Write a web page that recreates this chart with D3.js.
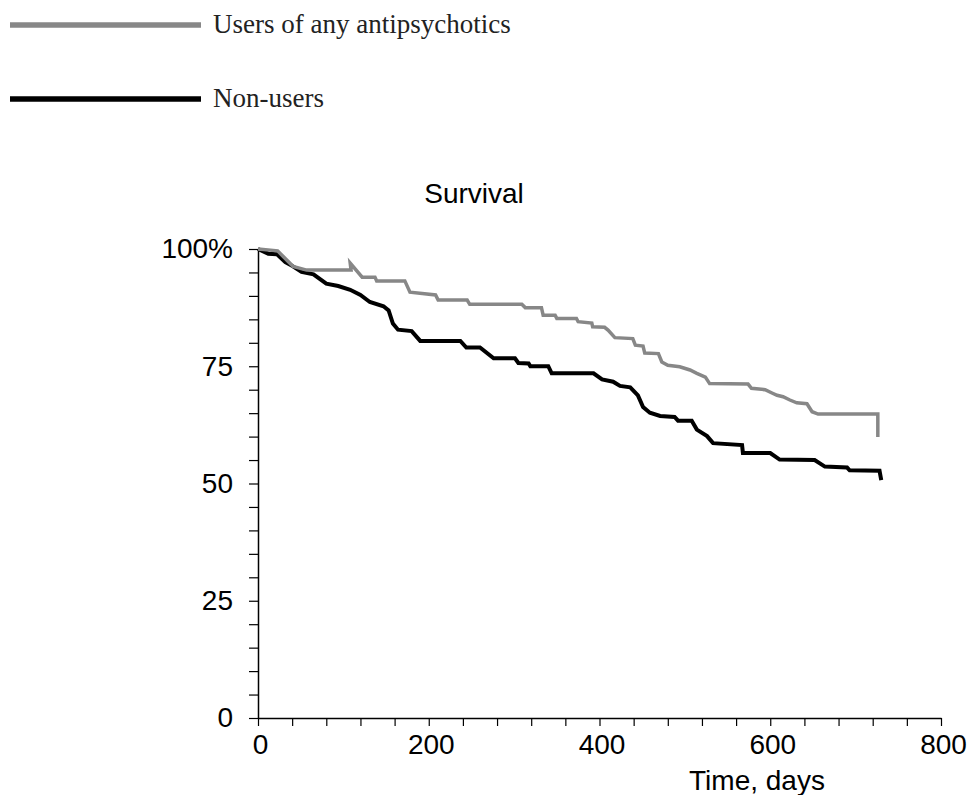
<!DOCTYPE html>
<html>
<head>
<meta charset="utf-8">
<script src="https://cdn.jsdelivr.net/npm/d3@7"></script>
<style>
  html, body { margin: 0; padding: 0; background: #fff; }
  svg { display: block; }
  .sans { font-family: "Liberation Sans", Arial, Helvetica, sans-serif; }
  .serif { font-family: "Liberation Serif", "Times New Roman", serif; }
</style>
</head>
<body>
<svg id="chart" width="974" height="795"></svg>
<script>
// ---- Data ----
const seriesNames = ["Users of any antipsychotics", "Non-users"];
const seriesColors = ["#878787", "#000000"];

// [day, survival %]
const usersDays = [0, 23, 41, 57, 109, 108, 122, 137, 139, 172, 178, 208, 211, 245, 248, 309, 313, 332, 334, 348, 350, 373, 375, 391, 392, 406, 410, 418, 439, 442, 451, 453, 469, 473, 480, 494, 506, 514, 524, 529, 574, 578, 594, 602, 608, 615, 623, 631, 643, 649, 656, 726, 726];
const usersSurv = [100, 99.6, 96.3, 95.5, 95.5, 97.0, 94.0, 94.0, 93.2, 93.2, 90.8, 90.2, 89.1, 89.1, 88.2, 88.2, 87.5, 87.5, 85.9, 85.9, 85.2, 85.2, 84.5, 84.2, 83.4, 83.3, 82.7, 81.1, 80.9, 79.5, 79.3, 77.8, 77.7, 75.9, 75.2, 74.9, 74.2, 73.5, 72.7, 71.3, 71.2, 70.3, 70.0, 69.3, 68.8, 68.5, 67.8, 67.2, 67.0, 65.3, 64.8, 64.8, 59.9];

const nonUsersDays = [0, 12, 22, 32, 41, 51, 65, 80, 94, 108, 120, 131, 147, 153, 158, 164, 180, 190, 237, 244, 260, 276, 301, 305, 317, 319, 340, 344, 393, 403, 416, 424, 436, 445, 451, 459, 471, 488, 492, 508, 514, 526, 533, 567, 568, 600, 611, 652, 664, 690, 693, 728, 730];
const nonUsersSurv = [100, 99.0, 98.9, 97.2, 96.3, 95.1, 94.6, 92.6, 92.1, 91.3, 90.2, 88.7, 87.8, 86.9, 84.1, 82.8, 82.5, 80.4, 80.4, 79.0, 79.0, 76.7, 76.7, 75.7, 75.6, 75.0, 75.0, 73.5, 73.5, 72.2, 71.7, 70.8, 70.5, 68.8, 66.3, 65.1, 64.4, 64.2, 63.4, 63.4, 61.5, 60.1, 58.6, 58.2, 56.5, 56.5, 55.1, 55.0, 53.6, 53.4, 52.8, 52.7, 50.7];

const yTickValues = [0, 5, 10, 15, 20, 25, 30, 35, 40, 45, 50, 55, 60, 65, 70, 75, 80, 85, 90, 95, 100];
const yTickLabels = {0: "0", 25: "25", 50: "50", 75: "75", 100: "100%"};
const xTickValues = [0, 40, 80, 120, 160, 200, 240, 280, 320, 360, 400, 440, 480, 520, 560, 600, 640, 680, 720, 760, 800];
const xTickLabels = {0: "0", 200: "200", 400: "400", 600: "600", 800: "800"};

const titleText = "Survival";
const xAxisTitle = "Time, days";

// ---- Drawing ----
const svg = d3.select("#chart");

const x = d3.scaleLinear().domain([0, 800]).range([258, 941]);
const y = d3.scaleLinear().domain([0, 100]).range([718, 249]);

// Legend
const legend = svg.append("g");
seriesNames.forEach((name, i) => {
  const ly = i === 0 ? 25 : 99;
  legend.append("line")
    .attr("x1", 10).attr("x2", 201)
    .attr("y1", ly).attr("y2", ly)
    .attr("stroke", seriesColors[i])
    .attr("stroke-width", 5.5);
  legend.append("text")
    .attr("class", "serif")
    .attr("x", 213).attr("y", ly + 8)
    .attr("font-size", 27)
    .attr("fill", "#222")
    .text(name);
});

// Title
svg.append("text")
  .attr("class", "sans")
  .attr("x", 474).attr("y", 203)
  .attr("text-anchor", "middle")
  .attr("font-size", 28)
  .attr("fill", "#000")
  .text(titleText);

// Y axis
const yAxis = d3.axisLeft(y)
  .tickValues(yTickValues)
  .tickSize(9)
  .tickSizeOuter(0)
  .tickPadding(16)
  .tickFormat(d => yTickLabels[d] !== undefined ? yTickLabels[d] : "");
const gy = svg.append("g")
  .attr("transform", `translate(${x(0)},0)`)
  .call(yAxis);
gy.select(".domain").attr("stroke", "#000").attr("stroke-width", 1.5);
gy.selectAll(".tick line").attr("stroke", "#000").attr("stroke-width", 1.2);
gy.selectAll(".tick text")
  .attr("font-family", "Liberation Sans, Arial, sans-serif")
  .attr("font-size", 28)
  .attr("fill", "#000");

// X axis
const xAxis = d3.axisBottom(x)
  .tickValues(xTickValues)
  .tickSize(8)
  .tickSizeOuter(0)
  .tickPadding(8)
  .tickFormat(d => xTickLabels[d] !== undefined ? xTickLabels[d] : "");
const gx = svg.append("g")
  .attr("transform", `translate(0,${y(0)})`)
  .call(xAxis);
gx.select(".domain").attr("stroke", "#000").attr("stroke-width", 1.5);
gx.selectAll(".tick line").attr("stroke", "#000").attr("stroke-width", 1.2);
gx.selectAll(".tick text")
  .attr("font-family", "Liberation Sans, Arial, sans-serif")
  .attr("font-size", 28)
  .attr("dx", 2)
  .attr("fill", "#000");

// X axis title
svg.append("text")
  .attr("class", "sans")
  .attr("x", 757).attr("y", 790)
  .attr("text-anchor", "middle")
  .attr("font-size", 28)
  .attr("fill", "#000")
  .text(xAxisTitle);

// Curves
const line = d3.line()
  .x(d => x(d[0]))
  .y(d => y(d[1]))
  .curve(d3.curveLinear);

const usersData = usersDays.map((d, i) => [d, usersSurv[i]]);
const nonUsersData = nonUsersDays.map((d, i) => [d, nonUsersSurv[i]]);

svg.append("path")
  .datum(nonUsersData)
  .attr("d", line)
  .attr("fill", "none")
  .attr("stroke", seriesColors[1])
  .attr("stroke-width", 4)
  .attr("stroke-linejoin", "miter");

svg.append("path")
  .datum(usersData)
  .attr("d", line)
  .attr("fill", "none")
  .attr("stroke", seriesColors[0])
  .attr("stroke-width", 3.5)
  .attr("stroke-linejoin", "miter");
</script>
</body>
</html>
